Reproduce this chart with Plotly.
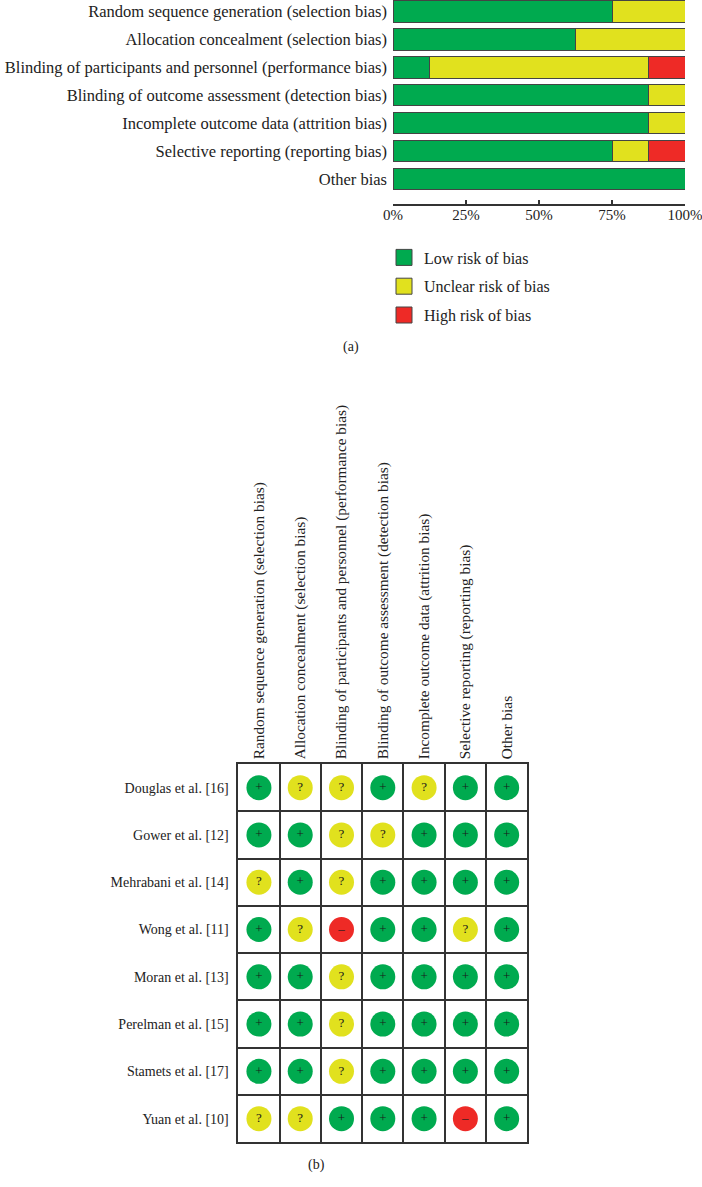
import plotly.graph_objects as go

domains = [
    "Random sequence generation (selection bias)",
    "Allocation concealment (selection bias)",
    "Blinding of participants and personnel (performance bias)",
    "Blinding of outcome assessment (detection bias)",
    "Incomplete outcome data (attrition bias)",
    "Selective reporting (reporting bias)",
    "Other bias",
]
low_pct = [75, 62.5, 12.5, 87.5, 87.5, 75, 100]
unclear_pct = [25, 37.5, 75, 12.5, 12.5, 12.5, 0]
high_pct = [0, 0, 12.5, 0, 0, 12.5, 0]
pct_ticks = [0, 25, 50, 75, 100]

studies = [
    "Douglas et al. [16]",
    "Gower et al. [12]",
    "Mehrabani et al. [14]",
    "Wong et al. [11]",
    "Moran et al. [13]",
    "Perelman et al. [15]",
    "Stamets et al. [17]",
    "Yuan et al. [10]",
]
# one row per study, one entry per domain: + low, ? unclear, - high
judgements = [
    ["+", "?", "?", "+", "?", "+", "+"],
    ["+", "+", "?", "?", "+", "+", "+"],
    ["?", "+", "?", "+", "+", "+", "+"],
    ["+", "?", "-", "+", "+", "?", "+"],
    ["+", "+", "?", "+", "+", "+", "+"],
    ["+", "+", "?", "+", "+", "+", "+"],
    ["+", "+", "?", "+", "+", "+", "+"],
    ["?", "?", "+", "+", "+", "-", "+"],
]

GREEN, YELLOW, RED = "#00AA4F", "#E1E11E", "#EE2A26"
FONT = "Liberation Serif"
INK = "#222222"

W, H = 702, 1187
px_x = lambda p: p / W
px_y = lambda p: 1 - p / H

fig = go.Figure()

# ---- panel (a): stacked summary bars
levels = [
    ("Low risk of bias", low_pct, GREEN),
    ("Unclear risk of bias", unclear_pct, YELLOW),
    ("High risk of bias", high_pct, RED),
]
for name, vals, col in levels:
    fig.add_trace(go.Bar(
        x=vals, y=list(range(len(domains))), orientation="h",
        marker=dict(color=col, line=dict(color="#444444", width=1)),
        width=0.77, showlegend=False, name=name,
        xaxis="x", yaxis="y", hoverinfo="skip",
    ))
    # legend entry with a bigger square
    fig.add_trace(go.Scatter(
        x=[None], y=[None], mode="markers", name=name,
        marker=dict(symbol="square", size=16, color=col,
                    line=dict(color="#444444", width=1)),
        legendgroup=name, xaxis="x", yaxis="y",
    ))

# ---- panel (b): traffic-light grid
sym_style = {"+": (GREEN, "+"), "?": (YELLOW, "?"), "-": (RED, "–")}
for key, (col, glyph) in sym_style.items():
    xs, ys = [], []
    for r, row in enumerate(judgements):
        for c, v in enumerate(row):
            if v == key:
                xs.append(c)
                ys.append(r)
    fig.add_trace(go.Scatter(
        x=xs, y=ys, mode="markers+text", text=[glyph] * len(xs),
        textposition="middle center",
        textfont=dict(family=FONT, size=13, color="#1a1a1a"),
        marker=dict(size=25, color=col, line=dict(width=0)),
        showlegend=False, xaxis="x2", yaxis="y2", hoverinfo="skip",
    ))

fig.update_layout(
    width=W, height=H,
    margin=dict(l=0, r=0, t=0, b=0, autoexpand=False),
    paper_bgcolor="white", plot_bgcolor="white",
    font=dict(family=FONT, size=15, color=INK),
    barmode="stack",
    xaxis=dict(
        domain=[px_x(393), px_x(685)], range=[0, 100],
        tickvals=pct_ticks, ticktext=[f"{t}%" for t in pct_ticks],
        showgrid=False, zeroline=False, automargin=False,
        showline=True, linecolor="#333333", linewidth=1.5,
        ticks="inside", ticklen=4, tickcolor="#333333", tickwidth=1.5,
        ticklabeloverflow="allow", ticklabelstandoff=-4,
        tickfont=dict(size=15), anchor="y",
    ),
    yaxis=dict(
        domain=[px_y(204), 1.0], range=[6.9, -0.412],
        tickvals=list(range(len(domains))), ticktext=domains,
        showgrid=False, zeroline=False, showline=False, ticks="",
        ticklabelstandoff=5, automargin=False,
        tickfont=dict(size=16.5), anchor="x",
    ),
    xaxis2=dict(
        domain=[px_x(238.3), px_x(527.3)], range=[-0.5, 6.5],
        side="top", tickangle=-90,
        tickvals=list(range(len(domains))), ticktext=domains,
        showgrid=False, zeroline=False, ticks="", automargin=False,
        showline=True, mirror=True, linecolor="#333333", linewidth=1.5,
        minor=dict(tickmode="array",
                   tickvals=[i + 0.5 for i in range(len(domains) - 1)],
                   showgrid=True, gridcolor="#333333", gridwidth=1.5, ticks=""),
        tickfont=dict(size=15.3), anchor="y2",
    ),
    yaxis2=dict(
        domain=[px_y(1142.3), px_y(764)], range=[7.5, -0.5],
        tickvals=list(range(len(studies))), ticktext=studies,
        showgrid=False, zeroline=False, ticks="", automargin=False,
        showline=True, mirror=True, linecolor="#333333", linewidth=1.5,
        minor=dict(tickmode="array",
                   tickvals=[i + 0.5 for i in range(len(studies) - 1)],
                   showgrid=True, gridcolor="#333333", gridwidth=1.5, ticks=""),
        ticklabelstandoff=5,
        tickfont=dict(size=14), anchor="x2",
    ),
    legend=dict(
        x=px_x(384), y=px_y(240.5), xanchor="left", yanchor="top",
        font=dict(size=16), tracegroupgap=5, bgcolor="rgba(0,0,0,0)",
    ),
    annotations=[
        dict(text="(a)", x=px_x(351), y=px_y(347), xref="paper", yref="paper",
             xanchor="center", yanchor="middle",
             showarrow=False, font=dict(size=14)),
        dict(text="(b)", x=px_x(316), y=px_y(1165), xref="paper", yref="paper",
             xanchor="center", yanchor="middle",
             showarrow=False, font=dict(size=14)),
    ],
)

# drop the default body margin so the figure fills the window
fig.write_html("out.html", config={"displayModeBar": False},
               post_script="document.body.style.margin='0';")
